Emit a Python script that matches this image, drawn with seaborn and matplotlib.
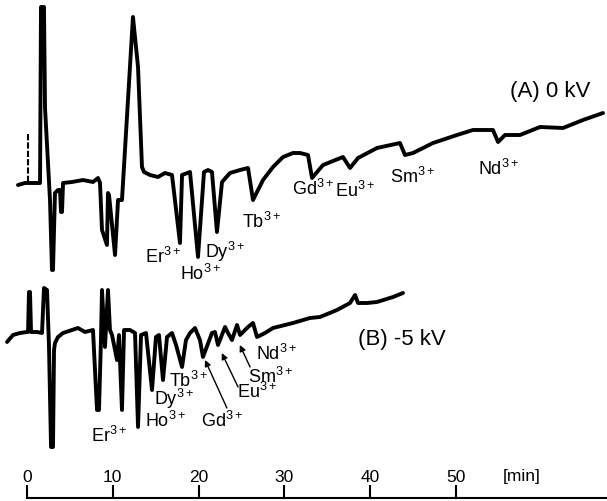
import numpy as np
import pandas as pd
import seaborn as sns
import matplotlib.pyplot as plt

sns.set_style('white')
plt.rcParams['font.family'] = ['Liberation Sans', 'DejaVu Sans']
plt.rcParams['mathtext.fontset'] = 'custom'
plt.rcParams['mathtext.rm'] = 'Liberation Sans'
plt.rcParams['mathtext.default'] = 'regular'
plt.rcParams['text.color'] = 'black'

# Trace (A) 0 kV: time [min] and detector signal (arbitrary units)
t_a = [-1.05, -0.23, 1.52, 1.63, 1.98, 2.10, 2.68, 2.91, 3.03, 3.26,
       3.61, 3.85, 3.96, 4.08, 4.20, 5.24, 6.53, 7.69, 8.28, 8.51,
       8.74, 9.32, 9.44, 9.56, 10.26, 10.61, 11.07, 12.35, 12.94, 13.40,
       13.64, 14.34, 15.27, 16.08, 16.90, 17.83, 18.07, 19.00, 19.93, 20.63,
       21.10, 21.56, 22.14, 22.73, 23.66, 24.83, 25.76, 26.34, 27.51, 28.67,
       29.84, 31.00, 31.82, 32.75, 33.22, 34.50, 36.83, 37.65, 38.58, 40.79,
       43.47, 44.06, 44.99, 47.32, 50.12, 51.98, 54.31, 54.90, 55.71, 57.46,
       59.79, 62.47, 64.80, 67.13]
sig_a = [316, 318, 318, 494, 494, 393, 301, 231, 231, 308,
         311, 311, 289, 289, 318, 319, 321, 319, 323, 318,
         271, 256, 308, 306, 246, 301, 301, 484, 434, 334,
         329, 326, 324, 328, 326, 258, 326, 329, 244, 329,
         331, 329, 269, 319, 328, 331, 333, 301, 321, 334,
         344, 348, 348, 346, 323, 336, 344, 333, 343, 353,
         358, 346, 348, 358, 366, 371, 371, 359, 366, 366,
         374, 373, 381, 388]

# Trace (B) -5 kV
t_b = [-2.33, -1.63, -0.82, 0.00, 0.12, 0.23, 0.35, 0.47, 1.17, 1.75,
       1.98, 2.33, 2.56, 2.80, 3.03, 3.15, 3.26, 3.61, 4.20, 5.24,
       5.94, 6.76, 7.69, 8.16, 8.39, 8.62, 8.74, 9.09, 9.44, 9.67,
       9.91, 10.49, 10.72, 11.07, 11.31, 12.00, 12.59, 12.94, 13.29, 13.87,
       14.57, 15.03, 15.38, 15.85, 16.32, 16.90, 17.37, 18.07, 18.53, 19.00,
       19.58, 20.16, 20.51, 21.56, 21.91, 22.26, 23.08, 23.43, 23.89, 24.48,
       24.83, 25.76, 26.34, 26.81, 27.74, 28.67, 31.00, 32.98, 34.15, 36.13,
       37.65, 38.23, 38.58, 39.63, 40.79, 42.66, 43.82]
sig_b = [159, 166, 168, 169, 169, 209, 209, 169, 169, 168,
         213, 211, 156, 54, 54, 151, 158, 164, 168, 171,
         173, 169, 171, 91, 91, 161, 211, 154, 211, 171,
         166, 141, 166, 91, 171, 171, 168, 74, 166, 168,
         111, 164, 166, 121, 164, 168, 156, 134, 161, 168,
         173, 161, 144, 168, 169, 156, 174, 168, 161, 176,
         166, 174, 178, 164, 168, 173, 178, 183, 184, 191,
         198, 206, 198, 198, 199, 204, 208]

# peak labels: (name, time, signal)
ions_a = ['Er', 'Ho', 'Dy', 'Tb', 'Gd', 'Eu', 'Sm', 'Nd']
lab_t_a = [15.85, 20.3, 23.1, 27.4, 33.3, 38.3, 44.9, 55.0]
lab_s_a = [238, 221, 243, 273, 306, 304, 318, 326]

ions_b = ['Er', 'Ho', 'Dy', 'Tb', 'Gd', 'Eu', 'Sm', 'Nd']
lab_t_b = [9.55, 16.2, 17.1, 18.9, 22.8, 26.8, 28.4, 29.1]
lab_s_b = [59, 74, 96, 114, 74, 103, 118, 141]

# arrows for trace B (label end -> peak)
arrow_from = [(23.3, 93), (24.6, 114), (26.0, 134)]
arrow_to = [(20.75, 141), (22.7, 148), (24.8, 156)]

ticks = [0, 10, 20, 30, 40, 50]

fig = plt.figure(figsize=(6.07, 5.01), dpi=100)
ax = fig.add_axes([0, 0, 1, 1])

df_a = pd.DataFrame({'t': t_a, 's': sig_a})
df_b = pd.DataFrame({'t': t_b, 's': sig_b})
sns.lineplot(data=df_a, x='t', y='s', sort=False, estimator=None,
             color='black', lw=2.8, ax=ax)
sns.lineplot(data=df_b, x='t', y='s', sort=False, estimator=None,
             color='black', lw=2.8, ax=ax)

# small dashed marker near start of trace A
ax.plot([0.12, 0.12], [319, 369], color='black', lw=1.5, ls=(0, (3, 1)))

for name, x, y in zip(ions_a, lab_t_a, lab_s_a):
    ax.text(x, y, name + '$^{3+}$', fontsize=13, ha='center', va='baseline')
for name, x, y in zip(ions_b, lab_t_b, lab_s_b):
    ax.text(x, y, name + '$^{3+}$', fontsize=13, ha='center', va='baseline')

for p0, p1 in zip(arrow_from, arrow_to):
    ax.annotate('', xy=p1, xytext=p0,
                arrowprops=dict(arrowstyle='-|>', color='black', lw=1,
                                mutation_scale=9, shrinkA=0, shrinkB=0))

ax.text(61.0, 404, '(A) 0 kV', fontsize=16, ha='center', va='baseline')
ax.text(43.7, 156, '(B) -5 kV', fontsize=16, ha='center', va='baseline')
ax.text(57.7, 24, '[min]', fontsize=12.5, ha='center', va='center')

ax.set_xlim(-3.147, 67.6)
ax.set_ylim(0, 501)
ax.set_xlabel('')
ax.set_ylabel('')
ax.set_yticks([])
ax.set_xticks(ticks)
ax.set_xticklabels([str(v) for v in ticks])
for side in ['top', 'left', 'right']:
    ax.spines[side].set_visible(False)
ax.spines['bottom'].set_position(('data', 3))
ax.spines['bottom'].set_bounds(0, 67.6)
ax.spines['bottom'].set_linewidth(1.5)
ax.spines['bottom'].set_color('black')
ax.tick_params(axis='x', bottom=True, direction='in', length=9.5, width=1.5,
               pad=-20.5, labelsize=12.5, colors='black')

plt.savefig('out.png', dpi=100)
